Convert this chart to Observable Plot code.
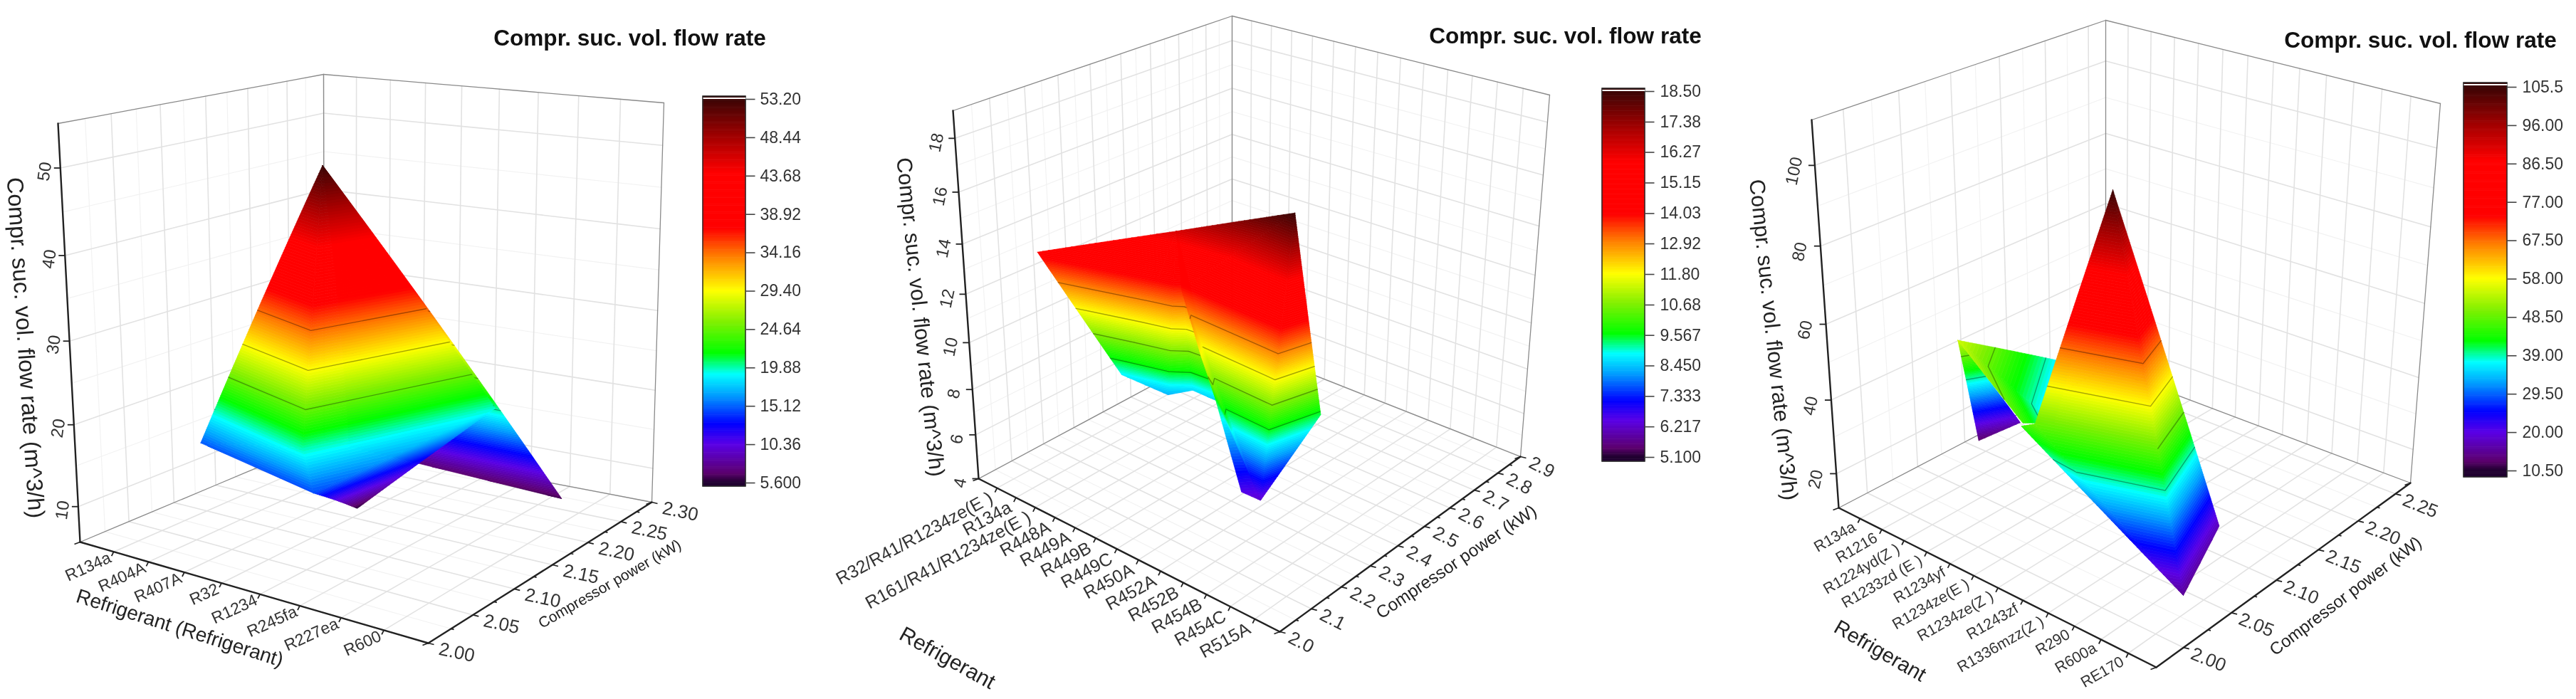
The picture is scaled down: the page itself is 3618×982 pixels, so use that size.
<!DOCTYPE html>
<html><head><meta charset="utf-8">
<script src="https://cdn.jsdelivr.net/npm/d3@7"></script>
<script src="https://cdn.jsdelivr.net/npm/@observablehq/plot@0.6"></script>
<style>html,body{margin:0;padding:0;background:#fff}#row{display:flex;width:3618px;height:982px;filter:blur(.6px)}svg{overflow:visible;display:block}</style>
</head><body><div id="row"></div>
<script>
const refrigerants1=["R134a","R404A","R407A","R32","R1234","R245fa","R227ea","R600"];
const refrigerants2=["R32/R41/R1234ze(E )","R134a","R161/R41/R1234ze(E )","R448A","R449A","R449B","R449C","R450A","R452A","R452B","R454B","R454C","R515A"];
const refrigerants3=["R134a","R1216","R1224yd(Z )","R1233zd (E )","R1234yf","R1234ze(E )","R1234ze(Z )","R1243zf","R1336mzz(Z )","R290","R600a","RE170"];
const powerTicks1=["2.00","2.05","2.10","2.15","2.20","2.25","2.30"];
const powerTicks2=["2.0","2.1","2.2","2.3","2.4","2.5","2.6","2.7","2.8","2.9"];
const powerTicks3=["2.00","2.05","2.10","2.15","2.20","2.25"];
const flowTicks1=[10,20,30,40,50];
const flowTicks2=[4,6,8,10,12,14,16,18];
const flowTicks3=[20,40,60,80,100];
const barTicks1=["5.600","10.36","15.12","19.88","24.64","29.40","34.16","38.92","43.68","48.44","53.20"];
const barTicks2=["5.100","6.217","7.333","8.450","9.567","10.68","11.80","12.92","14.03","15.15","16.27","17.38","18.50"];
const barTicks3=["10.50","20.00","29.50","39.00","48.50","58.00","67.50","77.00","86.50","96.00","105.5"];
const contours1=[19.88,24.64,29.40,34.16];
const contours2=[9.567,10.68,11.80,12.92];
const contours3=[39,48.5,58,67.5];
// surface vertices: position along the refrigerant axis, compressor power (kW), flow rate (m^3/h)
const refPos1=[5.68,1.09,4.86,5.02,3.75,6.60,7.39,1.54];
const power1=[2.045,2.092,2.054,2.058,2.168,2.208,2.262,2.263];
const flow1=[53.2,14.8,19.88,14.5,5.6,19.5,6.2,7.5];
const tri1=[[0,7,6],[0,1,2],[1,3,2],[0,2,5],[2,3,5],[3,4,5]];
const refPos2=[2.73,8.23,12.90,4.26,5.91,6.68,7.81,7.79,8.86,8.69,10.20,10.73,11.82];
const power2=[2.058,2.112,2.111,2.202,2.240,2.267,2.274,2.157,2.138,2.196,2.169,2.191,2.300];
const flow2=[14.2,16.4,18.5,8.8,8.3,8.6,8.5,13.8,11.8,9.567,6.5,6.2,9.4];
const tri2=[[0,1,3],[1,3,4],[1,4,5],[1,5,6],[1,2,7],[7,2,11],[7,11,8],[8,11,9],[9,11,10],[2,12,11]];
const refPos3=[2.84,0.64,1.60,2.92,5.26,6.44,7.14,6.38,8.68,11.93,10.70];
const power3=[2.035,2.101,2.125,2.151,2.073,2.013,2.008,2.013,2.045,2.030,2.105];
const flow3=[55,12.5,17,34,34,46,48.5,45,105.5,15,17];
const tri3=[[0,1,2],[0,3,4],[0,5,4],[6,7,9],[8,6,9],[8,9,10]];

const stops=[0,.024,.099,.153,.228,.282,.337,.418,.5,.588,.663,.806,.895,1];
const ramp=["#200030","#5c006e","#5a00e6","#0000ff","#00a0ff","#00ffff","#00ff00","#80f000","#ffff00","#ff8000","#ff0000","#ff0000","#a80000","#3a0505"];

const layouts=[
{x0:0,w:1130,corners:{F00:[112,761],F10:[601,903],F11:[915,705],F01:[455,617],T00:[81,173],T10:[600,263],T11:[932,144],T01:[454,104]},ku:.17,kv:-.2,kw:.057,
 vr:[2,2.3],zr:[5.6,55],names:refrigerants1,pow:powerTicks1,flow:flowTicks1,bar:barTicks1,lev:contours1,rp:refPos1,pw:power1,fl:flow1,tri:tri1,
 barX:[987,1047],barY:[135,683],tickY:[139,678],labX:1067,
 title:[884,53],uTitle:{t:"Refrigerant (Refrigerant)",p:[252,882],r:17.6,s:28,sy:.7},vTitle:{p:[856,820],r:-30,s:21,sy:.85},zTitle:{p:[35,488],r:86.3,s:32.3},
 uL:{o:[-5,7],r:-24.5,s:23,sy:.62},vL:{o:[40,13],r:12,s:26,sy:.5},zL:{o:[-22,5],r:-82,s:24}},
{x0:1130,w:1265,corners:{F00:[1374,672],F10:[1797,887],F11:[2135,641],F01:[1730,481],T00:[1338,155],T10:[1808,319],T11:[2176,133],T01:[1730,22]},ku:.18,kv:-.17,kw:.137,
 vr:[2,2.9],zr:[4,19],names:refrigerants2,pow:powerTicks2,flow:flowTicks2,bar:barTicks2,lev:contours2,rp:refPos2,pw:power2,fl:flow2,tri:tri2,
 barX:[2250,2310],barY:[124,648],tickY:[128,642],labX:2331,
 title:[2198,50],uTitle:{t:"Refrigerant",p:[1330,924],r:29,s:30,sy:.85},vTitle:{p:[2045,789],r:-34,s:24.5,sy:.9},zTitle:{p:[1292,445],r:84,s:30.3},
 uL:{o:[-8,12],r:-28.5,s:25,sy:.72},vL:{o:[30,15],r:27,s:26,sy:.7},zL:{o:[-26,6],r:-78,s:24}},
{x0:2395,w:1223,corners:{F00:[2582,713],F10:[3028,937],F11:[3385,678],F01:[2957,517],T00:[2544,168],T10:[3037,351],T11:[3427,145],T01:[2957,28]},ku:.16,kv:-.17,kw:.08,
 vr:[1.973,2.271],zr:[10.5,111],names:refrigerants3,pow:powerTicks3,flow:flowTicks3,bar:barTicks3,lev:contours3,rp:refPos3,pw:power3,fl:flow3,tri:tri3,
 barX:[3460,3521],barY:[116,670],tickY:[122,661],labX:3542,
 title:[3399,56],uTitle:{t:"Refrigerant",p:[2640,914],r:30,s:29,sy:.85},vTitle:{p:[3294,837],r:-37,s:24,sy:.9},zTitle:{p:[2490,477],r:84,s:30.5},
 uL:{o:[-8,10],r:-30,s:21.5,sy:.75},vL:{o:[35,17],r:22,s:26,sy:.6},zL:{o:[-29,8],r:-78,s:24}}
];

const warp=(t,k)=>t/(1+k*(1-t));
const lerp=(a,b,t)=>[a[0]+(b[0]-a[0])*t,a[1]+(b[1]-a[1])*t];
function projector(L){
  const c=L.corners;
  return (u,v,w)=>{
    const a=warp(u,L.ku),b=warp(v,L.kv),d=warp(w,L.kw);
    const bot=lerp(lerp(c.F00,c.F10,a),lerp(c.F01,c.F11,a),b);
    const top=lerp(lerp(c.T00,c.T10,a),lerp(c.T01,c.T11,a),b);
    return lerp(bot,top,d);
  };
}
function clip(poly,lev,keepAbove){
  const out=[];
  for(let i=0;i<poly.length;i++){
    const A=poly[i],B=poly[(i+1)%poly.length];
    const ia=keepAbove?A[2]>=lev:A[2]<=lev, ib=keepAbove?B[2]>=lev:B[2]<=lev;
    if(ia)out.push(A);
    if(ia!==ib){const t=(lev-A[2])/(B[2]-A[2]);out.push([A[0]+(B[0]-A[0])*t,A[1]+(B[1]-A[1])*t,lev]);}
  }
  return out;
}
function panel(L){
  const P=projector(L),N=L.names.length+1;
  const [zmin,zmax]=L.zr,[vmin,vmax]=L.vr;
  const W=z=>(z-zmin)/(zmax-zmin),V=p=>(p-vmin)/(vmax-vmin);
  const barVals=L.bar.map(Number),bmin=barVals[0],bmax=barVals[barVals.length-1];
  const verts=L.fl.map((z,i)=>[L.rp[i]/N,V(L.pw[i]),z]);
  const bands=140;let idn=0;
  const surfMarks=[];
  L.tri.forEach(t=>{
    const surf=[],cont=[];
    const poly=t.map(i=>verts[i]);
    for(let b=0;b<bands;b++){
      const lo=bmin+(bmax-bmin)*b/bands,hi=bmin+(bmax-bmin)*(b+1)/bands;
      let q=clip(poly,lo,true);if(q.length)q=clip(q,hi,false);
      if(q.length<3)continue;idn++;
      [...q,q[0]].forEach(p=>{const s=P(p[0],p[1],W(p[2]));surf.push({id:idn,x:s[0],y:s[1],val:(lo+hi)/2});});
    }
    L.lev.forEach((lev,li)=>{
      for(let e=0;e<3;e++){const A=poly[e],B=poly[(e+1)%3];
        if((A[2]-lev)*(B[2]-lev)<0){const k=(lev-A[2])/(B[2]-A[2]);const s=P(A[0]+(B[0]-A[0])*k,A[1]+(B[1]-A[1])*k,W(lev));cont.push({id:li,x:s[0],y:s[1]});}}
    });
    surfMarks.push(Plot.line(surf,{x:"x",y:"y",z:"id",fill:"val",stroke:"val",strokeWidth:.7}));
    surfMarks.push(Plot.line(cont,{x:"x",y:"y",z:"id",stroke:"#000",strokeOpacity:.35,strokeWidth:1.4}));
  });
  const maj=[],min=[],frame=[],axes=[];
  const seg=(arr,id,a,b)=>{const n=8;for(let i=0;i<=n;i++){const t=i/n;const s=P(a[0]+(b[0]-a[0])*t,a[1]+(b[1]-a[1])*t,a[2]+(b[2]-a[2])*t);arr.push({id,x:s[0],y:s[1]});}};
  const pv=L.pow.map(Number),zv=L.flow;
  const pm=pv.slice(1).map((p,i)=>(p+pv[i])/2);
  const zm=zv.slice(1).map((z,i)=>(z+zv[i])/2);
  let g=0;
  const both=(arr,fu,fv,fz)=>{
    fv.forEach(p=>{seg(arr,++g,[0,V(p),0],[0,V(p),1]);seg(arr,++g,[0,V(p),0],[1,V(p),0]);});
    fz.forEach(z=>{seg(arr,++g,[0,0,W(z)],[0,1,W(z)]);seg(arr,++g,[0,1,W(z)],[1,1,W(z)]);});
    fu.forEach(i=>{seg(arr,++g,[i/N,0,0],[i/N,1,0]);seg(arr,++g,[i/N,1,0],[i/N,1,1]);});
  };
  both(maj,d3.range(1,N),pv,zv);
  both(min,[],pm,zm);
  [[[0,0,1],[0,1,1]],[[0,1,1],[1,1,1]],[[0,1,0],[0,1,1]],[[1,1,0],[1,1,1]],[[0,0,0],[0,1,0]],[[0,1,0],[1,1,0]]].forEach(s=>seg(frame,++g,s[0],s[1]));
  [[[0,0,0],[0,0,1]],[[0,0,0],[1,0,0]],[[1,0,0],[1,1,0]]].forEach(s=>seg(axes,++g,s[0],s[1]));
  const ticks=[];
  const tk=(s,dx,dy)=>ticks.push({x1:s[0],y1:s[1],x2:s[0]+dx,y2:s[1]+dy});
  d3.range(1,N).forEach(i=>tk(P(i/N,0,0),-3,6));
  pv.forEach(p=>tk(P(1,V(p),0),8,2));
  pm.forEach(p=>tk(P(1,V(p),0),4,1));
  zv.forEach(z=>tk(P(0,0,W(z)),-9,0));
  [[0,0,0],[1,0,0],[1,1,0]].forEach(c=>{const s=P(...c);tk(s,-8,3);});
  const lab=(s,o,text)=>({x:s[0]+o[0],y:s[1]+o[1],text});
  const uLab=L.names.map((r,i)=>lab(P((i+1)/N,0,0),L.uL.o,r));
  const vLab=L.pow.map(p=>lab(P(1,V(+p),0),L.vL.o,p));
  const zLab=L.flow.map(z=>lab(P(0,0,W(z)),L.zL.o,String(z)));
  const bY=d3.scaleLinear().domain([bmin,bmax]).range([L.tickY[1],L.tickY[0]]);
  const n=300,barRows=d3.range(n).map(i=>{const t0=L.barY[0]+(L.barY[1]-L.barY[0])*i/n,t1=L.barY[0]+(L.barY[1]-L.barY[0])*(i+1)/n;return {y1:t0,y2:t1,x1:L.barX[0],x2:L.barX[1],val:bY.invert((t0+t1)/2)};});
  const barTick=barVals.map(v=>({x1:L.barX[1],x2:L.barX[1]+13,y1:bY(v),y2:bY(v)}));
  const barLab=L.bar.map((t,i)=>({x:L.labX,y:bY(barVals[i]),text:t}));
  const ff="Liberation Sans";
  const one=(o)=>[o];
  const svg=Plot.plot({width:L.w,height:982,margin:0,
    x:{domain:[L.x0,L.x0+L.w],range:[0,L.w],axis:null},
    y:{domain:[0,982],range:[0,982],axis:null},
    color:{type:"linear",domain:stops.map(t=>bmin+(bmax-bmin)*t),range:ramp,interpolate:"rgb",clamp:true},
    style:{background:"transparent",overflow:"visible"},
    marks:[
      Plot.line(min,{x:"x",y:"y",z:"id",stroke:"#f2f2f2",strokeWidth:1.2}),
      Plot.line(maj,{x:"x",y:"y",z:"id",stroke:"#e2e2e2",strokeWidth:1.6}),
      Plot.line(frame,{x:"x",y:"y",z:"id",stroke:"#8a8a8a",strokeWidth:1.3}),
      Plot.line(axes,{x:"x",y:"y",z:"id",stroke:"#222",strokeWidth:2.4}),
      Plot.link(ticks,{x1:"x1",y1:"y1",x2:"x2",y2:"y2",stroke:"#222",strokeWidth:1.8}),
      ...surfMarks,
      Plot.rect(barRows,{x1:"x1",x2:"x2",y1:"y1",y2:"y2",fill:"val",inset:-.3}),
      Plot.rect(one({x1:L.barX[0],x2:L.barX[1],y1:L.barY[0],y2:L.barY[1]}),{x1:"x1",x2:"x2",y1:"y1",y2:"y2",fill:"none",stroke:"#2a2a2a",strokeWidth:1.5}),
      Plot.link(one({x1:L.barX[0],x2:L.barX[1],y:L.barY[0]+2.5}),{x1:"x1",x2:"x2",y1:"y",y2:"y",stroke:"#fff",strokeWidth:2}),
      Plot.link(barTick,{x1:"x1",y1:"y1",x2:"x2",y2:"y2",stroke:"#444",strokeWidth:1.6}),
      Plot.text(barLab,{x:"x",y:"y",text:"text",textAnchor:"start",fontSize:23,fontFamily:ff,fill:"#333"}),
      Plot.text(one({x:L.title[0],y:L.title[1],text:"Compr. suc. vol. flow rate"}),{x:"x",y:"y",text:"text",fontSize:31.6,fontWeight:"bold",fontFamily:ff,fill:"#111"}),
      Plot.text(uLab,{x:"x",y:"y",text:"text",textAnchor:"end",rotate:()=>L.uL.r,fontSize:L.uL.s,fontFamily:ff,fill:"#333",ariaLabel:"ulab"}),
      Plot.text(vLab,{x:"x",y:"y",text:"text",rotate:()=>L.vL.r,fontSize:L.vL.s,fontFamily:ff,fill:"#333",ariaLabel:"vlab"}),
      Plot.text(zLab,{x:"x",y:"y",text:"text",rotate:()=>L.zL.r,fontSize:L.zL.s,fontFamily:ff,fill:"#333",ariaLabel:"zlab"}),
      Plot.text(one({x:L.uTitle.p[0],y:L.uTitle.p[1],text:L.uTitle.t}),{x:"x",y:"y",text:"text",rotate:()=>L.uTitle.r,fontSize:L.uTitle.s,fontFamily:ff,fill:"#222",ariaLabel:"utitle"}),
      Plot.text(one({x:L.vTitle.p[0],y:L.vTitle.p[1],text:"Compressor power (kW)"}),{x:"x",y:"y",text:"text",rotate:()=>L.vTitle.r,fontSize:L.vTitle.s,fontFamily:ff,fill:"#222",ariaLabel:"vtitle"}),
      Plot.text(one({x:L.zTitle.p[0],y:L.zTitle.p[1],text:"Compr. suc. vol. flow rate (m^3/h)"}),{x:"x",y:"y",text:"text",rotate:()=>L.zTitle.r,fontSize:L.zTitle.s,fontFamily:ff,fill:"#222",ariaLabel:"ztitle"})
    ]});
  const squash=(name,sy)=>svg.querySelectorAll(`g[aria-label="${name}"] text`).forEach(t=>t.setAttribute("transform",(t.getAttribute("transform")||"")+` scale(1,${sy})`));
  squash("ulab",L.uL.sy);squash("vlab",L.vL.sy);squash("utitle",L.uTitle.sy);squash("vtitle",L.vTitle.sy);squash("ztitle",.85);squash("zlab",.8);
  return svg;
}
const row=document.getElementById("row");
layouts.forEach(L=>row.appendChild(panel(L)));
</script></body></html>
